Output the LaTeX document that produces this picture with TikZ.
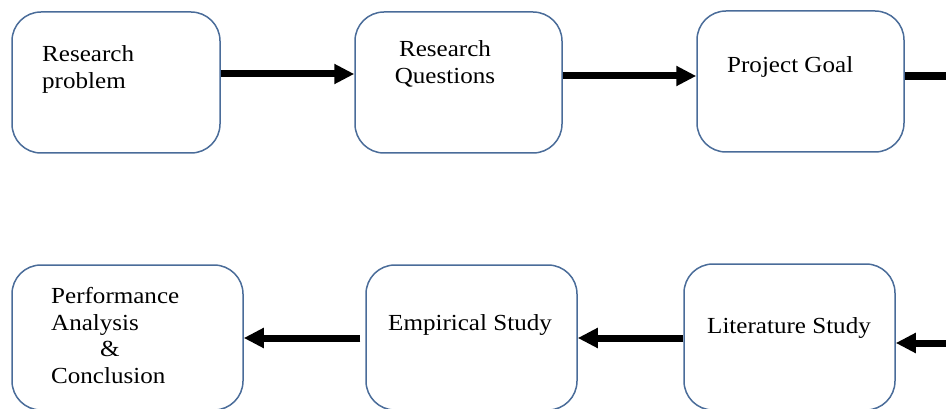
\documentclass[tikz,border=0pt]{standalone}
\usepackage{fontspec}
\setmainfont{Liberation Serif}[FakeStretch=1.09]
\usetikzlibrary{arrows.meta}
\definecolor{boxline}{RGB}{74,108,153}
\begin{document}
\begin{tikzpicture}[x=1pt, y=-1pt,
        box/.style={draw=boxline, line width=1.5pt, rounded corners=29pt, inner sep=0pt},
        lbl/.style={inner sep=0pt, font=\fontsize{23}{27}\selectfont},
        link/.style={line width=7pt},
        flow/.style={link, -{Triangle[length=20pt,width=19pt]}}]
        \useasboundingbox (0,0) rectangle (946,409);

        % Top row
        \node (rp) at (116,82.5) [box, minimum width=208pt, minimum height=141pt] {};
        \node (rq) at (458.5,82.5) [box, minimum width=207pt, minimum height=141pt] {};
        \node (pg) at (800.5,81.5) [box, minimum width=207pt, minimum height=141pt] {};
        \node (rp-t) at (42,89) [lbl, anchor=base west, align=left] {Research\\problem};
        \node (rq-t) at (445,83.5) [lbl, anchor=base, align=center] {Research\\Questions};
        \node (pg-t) at (727,73) [lbl, anchor=base west] {Project Goal};
        \coordinate (outT) at (950,76);

        % Bottom row
        \node (pa) at (127.5,337.5) [box, minimum width=231pt, minimum height=145pt] {};
        \node (es) at (471.5,337.5) [box, minimum width=211pt, minimum height=145pt] {};
        \node (ls) at (789.5,337) [box, minimum width=211pt, minimum height=146pt] {};
        \node (pa-t) at (51,383) [lbl, anchor=base west, align=left, font=\fontsize{23}{26.4}\selectfont]
            {Performance\\Analysis\\\hspace*{49pt}\&\\Conclusion};
        \node (es-t) at (388,330) [lbl, anchor=base west] {Empirical Study};
        \node (ls-t) at (707,333) [lbl, anchor=base west] {Literature Study};
        \coordinate (inB) at (950,343);

        % Arrows
        \draw[flow] (rp.east |- 0,74) -- (rq.west |- 0,74);
        \draw[flow] (rq.east |- 0,76) -- (pg.west |- 0,76);
        \draw[link, line width=8.5pt] (pg.east |- 0,76) -- (outT);
        \draw[flow] (inB) -- (ls.east |- 0,343);
        \draw[flow] (ls.west |- 0,338) -- (es.east |- 0,338);
        \draw[flow] ([xshift=-5pt]es.west |- 0,338) -- (pa.east |- 0,338);
    \end{tikzpicture}
\end{document}
